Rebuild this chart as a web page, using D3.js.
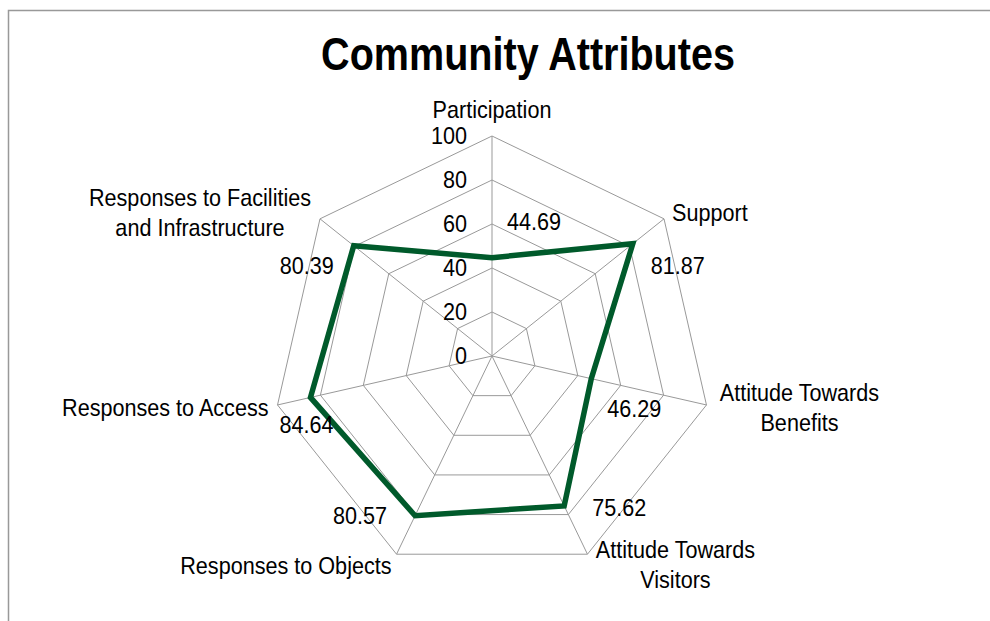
<!DOCTYPE html>
<html lang="en">
<head>
  <meta charset="UTF-8">
  <title>Community Attributes</title>
  <script src="https://d3js.org/d3.v7.min.js"></script>
  <style>
    body { margin: 0; background: #fff; }
    text { font-family: "Liberation Sans Narrow", "Arial Narrow", "Liberation Sans", sans-serif; fill: #000; }
  </style>
</head>
<body>
  <svg width="990" height="621"></svg>

  <script>
    // Data
    var categories = [
      ["Participation"],
      ["Support"],
      ["Attitude Towards", "Benefits"],
      ["Attitude Towards", "Visitors"],
      ["Responses to Objects"],
      ["Responses to Access"],
      ["Responses to Facilities", "and Infrastructure"]
    ];
    var values = [44.69, 81.87, 46.29, 75.62, 80.57, 84.64, 80.39];
    var ticks = [0, 20, 40, 60, 80, 100];

    var svg = d3.select("svg");
    var cx = 492, cy = 356, radius = 220;
    var n = categories.length;
    var narrow = 0.9;   // no narrow font installed, squeeze horizontally
    var fontSize = "24px";

    var r = d3.scaleLinear().domain([0, 100]).range([0, radius]);
    var angle = d3.scaleLinear().domain([0, n]).range([0, 2 * Math.PI]);

    function pt(i, v) {
      var a = angle(i);
      return [cx + r(v) * Math.sin(a), cy - r(v) * Math.cos(a)];
    }

    function squeeze(x, y, s) {
      return "translate(" + x + "," + y + ") scale(" + (s || narrow) + ",1)";
    }

    // Frame
    svg.append("path")
        .attr("d", "M8.5,621 V10.5 H990")
        .attr("fill", "none")
        .attr("stroke", "#999")
        .attr("stroke-width", 1.5);

    // Title
    svg.append("text")
        .attr("transform", squeeze(528, 70, 0.86))
        .attr("text-anchor", "middle")
        .style("font-size", "46px")
        .style("font-weight", "bold")
        .text("Community Attributes");

    var grid = svg.append("g");

    // Rings
    grid.selectAll("polygon")
        .data(ticks.slice(1))
        .enter().append("polygon")
        .attr("points", function(t) {
          return d3.range(n).map(function(i) { return pt(i, t).join(","); }).join(" ");
        })
        .attr("fill", "none")
        .attr("stroke", "#999")
        .attr("stroke-width", 1);

    // Spokes
    grid.selectAll("line")
        .data(d3.range(n))
        .enter().append("line")
        .attr("x1", cx).attr("y1", cy)
        .attr("x2", function(i) { return pt(i, 100)[0]; })
        .attr("y2", function(i) { return pt(i, 100)[1]; })
        .attr("stroke", "#999")
        .attr("stroke-width", 1);

    // Tick labels
    svg.append("g").selectAll("text")
        .data(ticks)
        .enter().append("text")
        .attr("transform", function(t) { return squeeze(cx - 25, cy - r(t)); })
        .attr("dy", "0.35em")
        .attr("text-anchor", "end")
        .style("font-size", fontSize)
        .text(function(t) { return t; });

    // Series line
    svg.append("path")
        .datum(values)
        .attr("d", d3.line()
            .x(function(v, i) { return pt(i, v)[0]; })
            .y(function(v, i) { return pt(i, v)[1]; })
            .curve(d3.curveLinearClosed))
        .attr("fill", "none")
        .attr("stroke", "#005A2B")
        .attr("stroke-width", 5.5)
        .attr("stroke-linejoin", "miter");

    // Value labels, offsets relative to each point
    var valueOffset = [[42, -36], [45, 22], [43, 30], [55, 2], [-55, 0], [-4, 27], [-47, 20]];
    svg.append("g").selectAll("text")
        .data(values)
        .enter().append("text")
        .attr("transform", function(v, i) {
          var p = pt(i, v);
          return squeeze(p[0] + valueOffset[i][0], p[1] + valueOffset[i][1]);
        })
        .attr("dy", "0.35em")
        .attr("text-anchor", "middle")
        .style("font-size", fontSize)
        .text(function(v) { return v.toFixed(2); });

    // Category labels: anchor and offset from the 100 end of each spoke
    var catPlace = [
      {anchor: "middle", dx: 0, dy: -26},
      {anchor: "start", dx: 8, dy: -6},
      {anchor: "middle", dx: 93, dy: 3},
      {anchor: "middle", dx: 88, dy: 10},
      {anchor: "end", dx: -5, dy: 11},
      {anchor: "end", dx: -9, dy: 3},
      {anchor: "middle", dx: -120, dy: -6}
    ];
    var catG = svg.append("g").selectAll("text")
        .data(categories)
        .enter().append("text")
        .attr("text-anchor", function(c, i) { return catPlace[i].anchor; })
        .style("font-size", fontSize)
        .attr("transform", function(c, i) {
          var p = pt(i, 100);
          var lines = c.length;
          return squeeze(p[0] + catPlace[i].dx, p[1] + catPlace[i].dy - (lines - 1) * 15);
        });

    catG.selectAll("tspan")
        .data(function(c) { return c; })
        .enter().append("tspan")
        .attr("x", 0)
        .attr("y", function(d, j) { return j * 30; })
        .attr("dy", "0.35em")
        .text(function(d) { return d; });
  </script>
</body>
</html>
